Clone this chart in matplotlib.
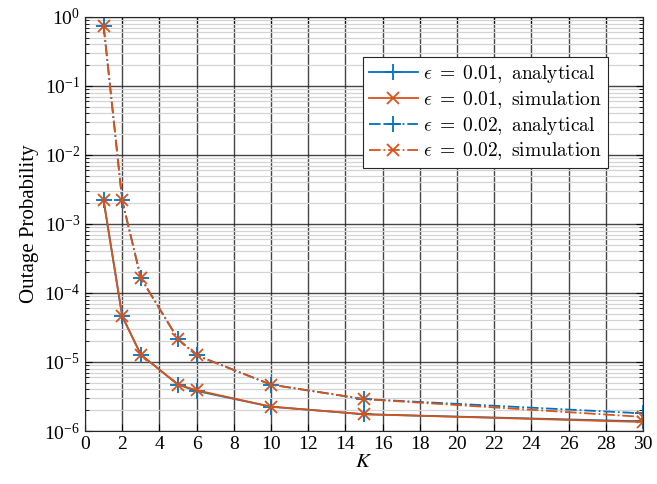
import numpy as np
import matplotlib
matplotlib.use('Agg')
import matplotlib.pyplot as plt
from matplotlib.font_manager import FontProperties
from matplotlib.ticker import LogLocator, FixedLocator

plt.rcParams['font.family'] = 'Liberation Serif'
plt.rcParams['mathtext.fontset'] = 'stix'
plt.rcParams['font.size'] = 13

# Data
K = [1, 2, 3, 5, 6, 10, 15, 30]
ana_001 = [2.2e-3, 4.6e-5, 1.28e-5, 4.7e-6, 3.8e-6, 2.25e-6, 1.75e-6, 1.38e-6]
sim_001 = [2.2e-3, 4.6e-5, 1.28e-5, 4.7e-6, 3.9e-6, 2.25e-6, 1.75e-6, 1.35e-6]
ana_002 = [0.75, 2.2e-3, 1.65e-4, 2.15e-5, 1.25e-5, 4.7e-6, 2.9e-6, 1.8e-6]
sim_002 = [0.75, 2.2e-3, 1.65e-4, 2.15e-5, 1.25e-5, 4.7e-6, 2.9e-6, 1.6e-6]

BLUE = '#0072BD'
ORANGE = '#D95319'

fig = plt.figure(figsize=(6.57, 4.84), dpi=100)
ax = fig.add_axes([0.1294, 0.1095, 0.8493, 0.8554])

ax.plot(K, ana_001, '-', color=BLUE, marker='+', ms=11, mew=1.3, lw=1.3,
        label=r'$\epsilon\;=\;0.01,\ \mathrm{analytical}$')
ax.plot(K, sim_001, '-', color=ORANGE, marker='x', ms=9, mew=1.3, lw=1.3,
        label=r'$\epsilon\;=\;0.01,\ \mathrm{simulation}$')
ax.plot(K, ana_002, '-.', color=BLUE, marker='+', ms=11, mew=1.3, lw=1.3,
        label=r'$\epsilon\;=\;0.02,\ \mathrm{analytical}$')
ax.plot(K, sim_002, '-.', color=ORANGE, marker='x', ms=9, mew=1.3, lw=1.3,
        label=r'$\epsilon\;=\;0.02,\ \mathrm{simulation}$')

ax.set_yscale('log')
ax.set_xlim(0, 30)
ax.set_ylim(1e-6, 1e0)
ax.set_xticks(np.arange(0, 31, 2))
ax.yaxis.set_major_locator(FixedLocator([10.0 ** e for e in range(-6, 1)]))
ax.yaxis.set_minor_locator(LogLocator(base=10, subs=np.arange(2, 10), numticks=20))
ax.yaxis.set_minor_formatter(plt.NullFormatter())

ax.grid(True, which='major', color='#262626', lw=1.0, alpha=0.85)
ax.grid(True, which='minor', axis='y', color='#d4d4d4', lw=0.9)
ax.set_axisbelow(True)

ax.tick_params(which='both', direction='in', top=True, right=True, labelsize=14)
ax.tick_params(which='major', length=5)
ax.tick_params(which='minor', length=3)
for s in ax.spines.values():
    s.set_linewidth(0.8)
    s.set_color('#262626')

ax.set_xlabel(r'$K$', fontsize=15, labelpad=0)
ax.set_ylabel('Outage Probability', fontsize=15, labelpad=4)

leg_font = FontProperties(family='Liberation Serif', size=14, math_fontfamily='cm')
leg = ax.legend(loc='upper right', bbox_to_anchor=(0.937, 0.903), prop=leg_font,
                fancybox=False, framealpha=1, edgecolor='#262626', borderaxespad=0,
                handlelength=2.5, borderpad=0.3, labelspacing=0.2, handletextpad=0.3)
leg.get_frame().set_linewidth(0.8)

fig.savefig('out.png', dpi=100, facecolor='white')
